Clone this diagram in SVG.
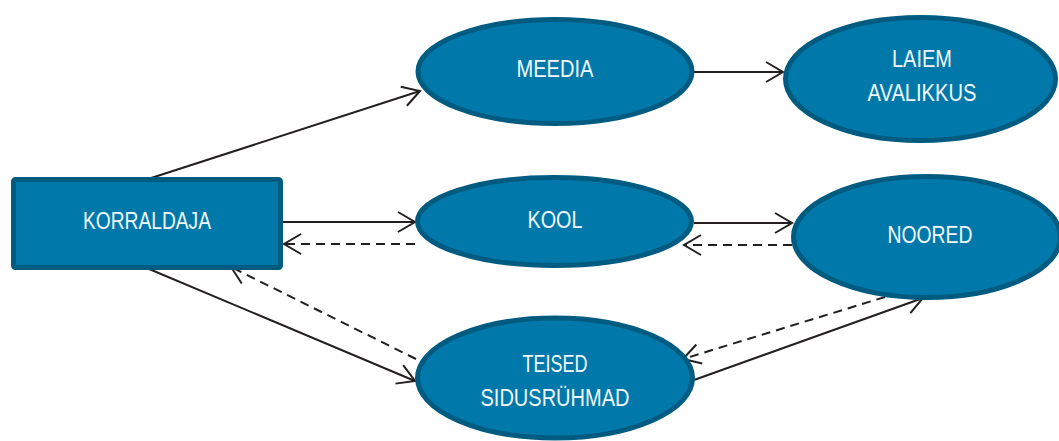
<svg xmlns="http://www.w3.org/2000/svg" width="1059" height="441" viewBox="0 0 1059 441">
<defs>
<style>
.node{fill:#0079AA;stroke:#005B80;stroke-width:5}
.lbl{font-family:"Liberation Sans",Arial,sans-serif;font-size:23px;fill:#F2F8FC;text-anchor:middle}
.c{stroke:#231F20;stroke-width:2;fill:none;marker-end:url(#arr)}
.d{stroke-dasharray:9,6}
</style>
<marker id="arr" markerUnits="userSpaceOnUse" markerWidth="20" markerHeight="22" viewBox="0 0 20 22" refX="18" refY="11" orient="auto">
<path d="M1,1 L18,11 L1,21" fill="none" stroke="#231F20" stroke-width="2"/>
</marker>
</defs>
<rect width="1059" height="441" fill="#FFFFFF"/>
<g id="connectors">
<line class="c" x1="145" y1="180" x2="420" y2="91"/>
<line class="c" x1="694" y1="72" x2="783" y2="72"/>
<line class="c" x1="283" y1="222" x2="415" y2="222"/>
<line class="c d" x1="415" y1="244" x2="284" y2="244"/>
<line class="c" x1="694" y1="223" x2="792" y2="223"/>
<line class="c d" x1="792" y1="245" x2="684" y2="245"/>
<line class="c" x1="142" y1="266" x2="415" y2="381"/>
<line class="c d" x1="416" y1="359" x2="231" y2="267"/>
<line class="c" x1="694" y1="380" x2="923" y2="298"/>
<line class="c d" x1="885" y1="297" x2="683" y2="359"/>
</g>
<g id="korraldaja">
<rect class="node" x="13.5" y="179.5" width="267" height="88" rx="2"/>
<text class="lbl" x="147" y="229" textLength="128" lengthAdjust="spacingAndGlyphs">KORRALDAJA</text>
</g>
<g id="meedia">
<ellipse class="node" cx="555" cy="71.5" rx="137" ry="52"/>
<text class="lbl" x="555" y="77" textLength="77" lengthAdjust="spacingAndGlyphs">MEEDIA</text>
</g>
<g id="laiem-avalikkus">
<ellipse class="node" cx="920.5" cy="79" rx="135" ry="61.5"/>
<text class="lbl" x="922" y="67" textLength="60" lengthAdjust="spacingAndGlyphs">LAIEM</text>
<text class="lbl" x="922" y="101" textLength="109" lengthAdjust="spacingAndGlyphs">AVALIKKUS</text>
</g>
<g id="kool">
<ellipse class="node" cx="554.5" cy="221.5" rx="137" ry="44"/>
<text class="lbl" x="555" y="228" textLength="55" lengthAdjust="spacingAndGlyphs">KOOL</text>
</g>
<g id="noored">
<ellipse class="node" cx="927" cy="237" rx="133.5" ry="60.5"/>
<text class="lbl" x="930" y="243" textLength="85" lengthAdjust="spacingAndGlyphs">NOORED</text>
</g>
<g id="teised-sidusruhmad">
<ellipse class="node" cx="555" cy="378" rx="137.5" ry="60"/>
<text class="lbl" x="555" y="372" textLength="65" lengthAdjust="spacingAndGlyphs">TEISED</text>
<text class="lbl" x="555" y="406" textLength="149" lengthAdjust="spacingAndGlyphs">SIDUSRÜHMAD</text>
</g>
</svg>
